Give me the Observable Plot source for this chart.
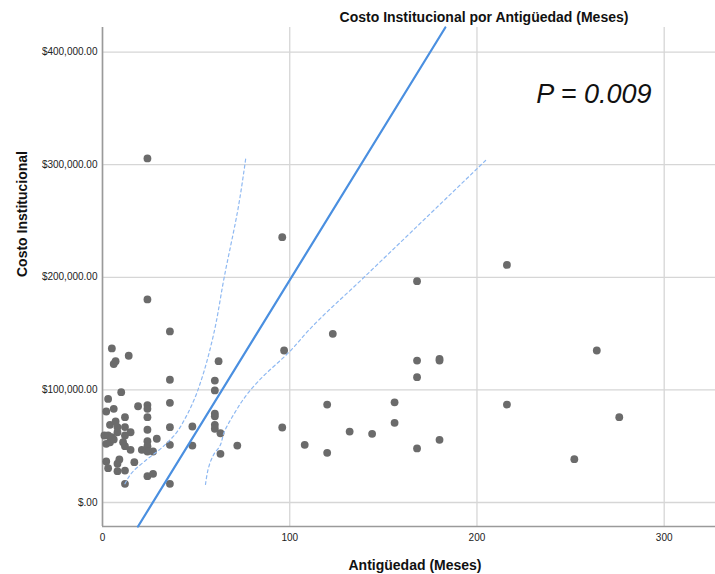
<!DOCTYPE html>
<html>
<head>
<meta charset="utf-8">
<script src="https://cdn.jsdelivr.net/npm/d3@7"></script>
<script src="https://cdn.jsdelivr.net/npm/@observablehq/plot@0.6"></script>
<style>
  html, body { margin: 0; padding: 0; background: #fff; }
  #chart svg { display: block; font-family: "Liberation Sans", Arial, sans-serif; }
</style>
</head>
<body>
<div id="chart"></div>
<script>
// Antigüedad (meses) y costo institucional de cada caso
const months = [
  24, 96, 216, 24, 168, 36, 123, 97, 264, 5,
  14, 6, 7, 62, 168, 180, 180, 36, 60, 168,
  10, 60, 3, 216, 120, 156, 276, 252, 2, 6,
  19, 24, 24, 24, 36, 60, 60, 12, 4, 7,
  8, 12, 15, 24, 36, 48, 60, 60, 63, 96,
  132, 144, 156, 1, 3, 2, 4, 8, 12, 12,
  15, 24, 24, 24, 21, 27, 29, 36, 48, 63,
  72, 108, 120, 168, 180, 2, 3, 9, 8, 8,
  12, 17, 24, 27, 12, 36, 6, 11, 5
];
const cost = [
  305500, 235600, 211000, 180300, 196500, 151900, 149800, 135000, 135000, 136800,
  130300, 123000, 125500, 125500, 126000, 127600, 126000, 109000, 108300, 111300,
  98000, 99500, 92000, 87000, 87000, 89000, 75800, 38500, 80800, 83200,
  85500, 86500, 83200, 75800, 88500, 79000, 76600, 75800, 69000, 72000,
  67000, 67000, 62400, 64600, 66900, 67500, 69000, 65500, 61500, 66600,
  63000, 61000, 70800, 59500, 59500, 52100, 53500, 62400, 59500, 50000,
  46800, 54400, 50000, 45300, 46800, 45300, 56600, 51200, 50600, 43200,
  50600, 51200, 44100, 48000, 55700, 36400, 30500, 38200, 34400, 27800,
  28400, 35800, 23400, 25500, 16600, 16600, 56000, 53600, 58000
];

// Recta de ajuste (extremos dentro del área del gráfico)
const fitMonths = [18.96, 183.1];
const fitCost = [-21300, 421800];

// Bandas de confianza al 95 % para la media
const upperBandMonths = [12, 16, 23, 32, 39, 44.5, 49.5, 53, 59, 65, 73, 76.5];
const upperBandCost = [16600, 27000, 37300, 49100, 61000, 75800, 93500, 110000, 146800, 200000, 266700, 305500];
const lowerBandMonths = [55, 59.6, 62.3, 65, 70.3, 77.4, 83.6, 100.5, 110, 139.7, 204.6];
const lowerBandCost = [16000, 43200, 49100, 62500, 78800, 96500, 108300, 135000, 152700, 200000, 303700];

// Ejes
const xTicks = [0, 100, 200, 300];
const xTickLabels = ["0", "100", "200", "300"];
const yTicks = [0, 100000, 200000, 300000, 400000];
const yTickLabels = ["$.00", "$100,000.00", "$200,000.00", "$300,000.00", "$400,000.00"];
const xDomain = [0, 327.4];
const yDomain = [-21300, 421800];

const title = "Costo Institucional por Antigüedad (Meses)";
const xLabel = "Antigüedad (Meses)";
const yLabel = "Costo Institucional";
const pLabel = "P = 0.009";

const points = months.map((m, i) => ({months: m, cost: cost[i]}));
const fit = fitMonths.map((m, i) => ({months: m, cost: fitCost[i]}));
const upperBand = upperBandMonths.map((m, i) => ({months: m, cost: upperBandCost[i]}));
const lowerBand = lowerBandMonths.map((m, i) => ({months: m, cost: lowerBandCost[i]}));

const gridColor = "#d6d6d6";
const axisColor = "#9a9a9a";
const bandColor = "#8fb9f2";

const chart = Plot.plot({
  width: 715,
  height: 574,
  marginLeft: 102,
  marginRight: 0,
  marginTop: 27,
  marginBottom: 48,
  style: {fontFamily: "'Liberation Sans', Arial, sans-serif", background: "#fff"},
  x: {domain: xDomain, ticks: xTicks},
  y: {domain: yDomain, ticks: yTicks},
  marks: [
    Plot.gridX(xTicks, {stroke: gridColor, strokeOpacity: 1, strokeWidth: 1.3}),
    Plot.gridY(yTicks, {stroke: gridColor, strokeOpacity: 1, strokeWidth: 1.3}),
    Plot.axisX(xTicks, {
      tickSize: 0, tickPadding: 7, fontSize: 10, fill: "#222", label: null,
      tickFormat: (d) => xTickLabels[xTicks.indexOf(d)]
    }),
    Plot.axisY(yTicks, {
      tickSize: 0, tickPadding: 5, fontSize: 10, fill: "#222", label: null,
      tickFormat: (d) => yTickLabels[yTicks.indexOf(d)]
    }),
    Plot.ruleX([xDomain[0]], {stroke: axisColor, strokeWidth: 1.6}),
    Plot.ruleY([yDomain[0]], {stroke: axisColor, strokeWidth: 1.6}),
    Plot.dot(points, {x: "months", y: "cost", r: 3.9, fill: "#6b6b6b", stroke: "none"}),
    Plot.line(upperBand, {x: "months", y: "cost", stroke: bandColor, strokeWidth: 1.2, strokeDasharray: "3,3", curve: "monotone-y"}),
    Plot.line(lowerBand, {x: "months", y: "cost", stroke: bandColor, strokeWidth: 1.2, strokeDasharray: "3,3", curve: "monotone-y"}),
    Plot.line(fit, {x: "months", y: "cost", stroke: "#4a8fe0", strokeWidth: 2.2}),
    Plot.text([title], {
      frameAnchor: "top", dx: 75, dy: -10, fontSize: 14, fontWeight: "bold", fill: "#111", lineAnchor: "middle"
    }),
    Plot.text([xLabel], {
      frameAnchor: "bottom", dx: 6, dy: 39, fontSize: 14, fontWeight: "bold", fill: "#111", lineAnchor: "middle"
    }),
    Plot.text([yLabel], {
      frameAnchor: "left", dx: -80, rotate: -90, fontSize: 14, fontWeight: "bold", fill: "#111", lineAnchor: "middle"
    }),
    Plot.text([pLabel], {
      frameAnchor: "top-right", dx: -64, dy: 67, textAnchor: "end", fontSize: 27, fontStyle: "italic", fill: "#111", lineAnchor: "middle"
    })
  ]
});

document.getElementById("chart").appendChild(chart);
</script>
</body>
</html>
